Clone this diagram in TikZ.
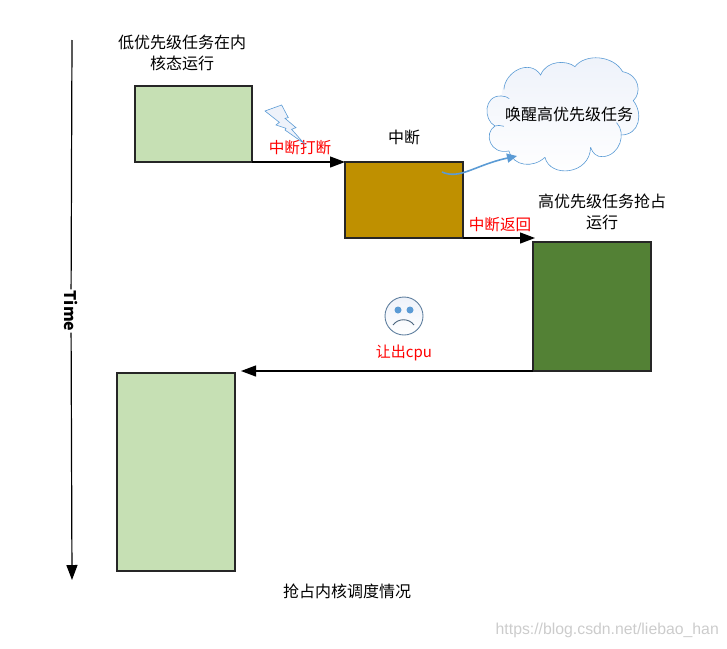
\documentclass[tikz,border=0pt]{standalone}
\usepackage{fontspec}
\setmainfont{Noto Sans CJK SC}
\newfontfamily\wmfont{Liberation Sans}
\usetikzlibrary{arrows.meta}
\definecolor{lgreen}{HTML}{C6E0B4}
\definecolor{dgreen}{HTML}{538135}
\definecolor{gold}{HTML}{BF9000}
\definecolor{cloudblue}{HTML}{5B9BD5}
\definecolor{cloudfill}{HTML}{EEF2FA}
\definecolor{faceline}{HTML}{5F7F9F}
\tikzset{
  taskbox/.style={draw=black!85, line width=1.3pt, anchor=north west, inner sep=0pt, outer sep=0pt},
  lbl/.style={font=\fontsize{16}{21}\selectfont, align=center, inner sep=0pt, text=black},
  redlbl/.style={font=\fontsize{15.6}{20}\selectfont, inner sep=0pt, text=red},
  flow/.style={draw=black, line width=1.2pt, -{Triangle[length=15pt,width=11pt]}},
  cloudline/.style={draw=cloudblue, line width=0.6pt},
}
\begin{document}
\begin{tikzpicture}[x=1pt,y=-1pt]
\useasboundingbox (0,0) rectangle (727,648);
% boxes
\node[taskbox, fill=lgreen, minimum width=117pt, minimum height=76pt] (low) at (135,86) {};
\node[taskbox, fill=gold, minimum width=118pt, minimum height=76pt] (irq) at (345,162) {};
\node[taskbox, fill=dgreen, minimum width=118pt, minimum height=129pt] (high) at (533,242) {};
\node[taskbox, fill=lgreen, minimum width=118pt, minimum height=198pt] (low2) at (117,373) {};
% time axis
\coordinate (tstart) at (72,40);
\coordinate (tend) at (72,580);
\node[font=\bfseries\fontsize{16}{16}\selectfont, rotate=-90, fill=white, inner xsep=1pt, inner ysep=0pt] (time) at (71,311) {Time};
\draw[line width=1.2pt] (tstart) -- (time);
\draw[flow] (time) -- (tend);
% flows
\draw[flow] (low.south east) -- (irq.north west);
\draw[flow] (irq.south east) -- ([xshift=2pt]irq.south east -| high.west);
\coordinate (ret) at ([xshift=6pt]low2.north east);
\draw[flow] (high.south west) -- (high.south west -| ret);
% labels
\node[lbl] (t1) at (182,53) {低优先级任务在内\\核态运行};
\node[lbl] (t2) at (404,137) {中断};
\node[lbl] (t3) at (602,212) {高优先级任务抢占\\运行};
\node[lbl] (t4) at (347,591) {抢占内核调度情况};
\node[redlbl] (r1) at (300,148) {中断打断};
\node[redlbl] (r2) at (500,225) {中断返回};
\node[redlbl, font=\fontsize{15}{20}\selectfont] (r3) at (404,353) {让出cpu};
% cloud
\begin{scope}[x=0.3333pt,y=-0.3333pt,shift={(750,150)}]
\path[top color=cloudfill, bottom color=white] (755,138) .. controls (755,70) and (840,25) .. (872,75)
 .. controls (890,30) and (950,30) .. (975,50)
 .. controls (1005,10) and (1090,15) .. (1118,65)
 .. controls (1170,75) and (1175,130) .. (1150,152)
 .. controls (1180,190) and (1170,255) .. (1113,255)
 .. controls (1110,315) and (1040,335) .. (1022,292)
 .. controls (1020,375) and (900,385) .. (885,322)
 .. controls (850,355) and (790,350) .. (777,303)
 .. controls (720,315) and (700,250) .. (735,228)
 .. controls (700,210) and (700,135) .. (755,138) -- cycle;
\draw[cloudline] (762,118) .. controls (765,65) and (840,25) .. (872,75)
 .. controls (890,30) and (950,30) .. (975,50)
 .. controls (1005,10) and (1090,15) .. (1118,65)
 .. controls (1170,75) and (1175,130) .. (1150,152)
 .. controls (1180,190) and (1170,255) .. (1113,255);
\draw[cloudline] (1100,218) .. controls (1130,250) and (1110,315) .. (1060,320) .. controls (1040,322) and (1028,310) .. (1022,292);
\draw[cloudline] (1022,292) .. controls (1020,375) and (900,385) .. (885,322);
\draw[cloudline] (885,322) .. controls (850,355) and (790,350) .. (777,303);
\draw[cloudline] (777,303) .. controls (720,315) and (700,250) .. (735,228) .. controls (742,225) and (752,226) .. (762,229);
\draw[cloudline] (735,228) .. controls (700,210) and (700,135) .. (755,138) .. controls (765,138) and (772,142) .. (778,146);
\end{scope}
\node[lbl] (t5) at (569,114) {唤醒高优先级任务};
% wake arrow
\coordinate (wstart) at (442,172);
\coordinate (wend) at (517,156);
\draw[draw=cloudblue, line width=1.6pt, -{Triangle[length=10pt,width=9pt]}] (wstart) .. controls (460,180) and (475,165) .. (wend);
% lightning
\begin{scope}[x=0.3333pt,y=-0.3333pt,shift={(750,285)}]
\draw[cloudline, fill=cloudfill, line join=miter] (45,48) -- (95,30) -- (115,68) -- (105,70) -- (138,98) -- (125,103) -- (162,145) -- (105,105) -- (108,100) -- (78,90) -- (88,82) -- cycle;
\end{scope}
% sad face
\node[draw=faceline, line width=0.9pt, circle, minimum size=38pt, inner sep=0pt, top color=cloudfill, bottom color=white] (face) at (404,316) {};
\node[circle, fill=cloudblue, minimum size=7pt, inner sep=0pt] (eye1) at (398,310) {};
\node[circle, fill=cloudblue, minimum size=7pt, inner sep=0pt] (eye2) at (410,310) {};
\draw[draw=faceline!80!black, line width=0.9pt] (393,325) .. controls (398,318) and (409,318) .. (414,325);
% watermark
\node[font=\wmfont\fontsize{15.8}{18}\selectfont, text=black!20, anchor=east, inner sep=0pt] (wm) at (719,630) {https://blog.csdn.net/liebao\_han};
\end{tikzpicture}
\end{document}
